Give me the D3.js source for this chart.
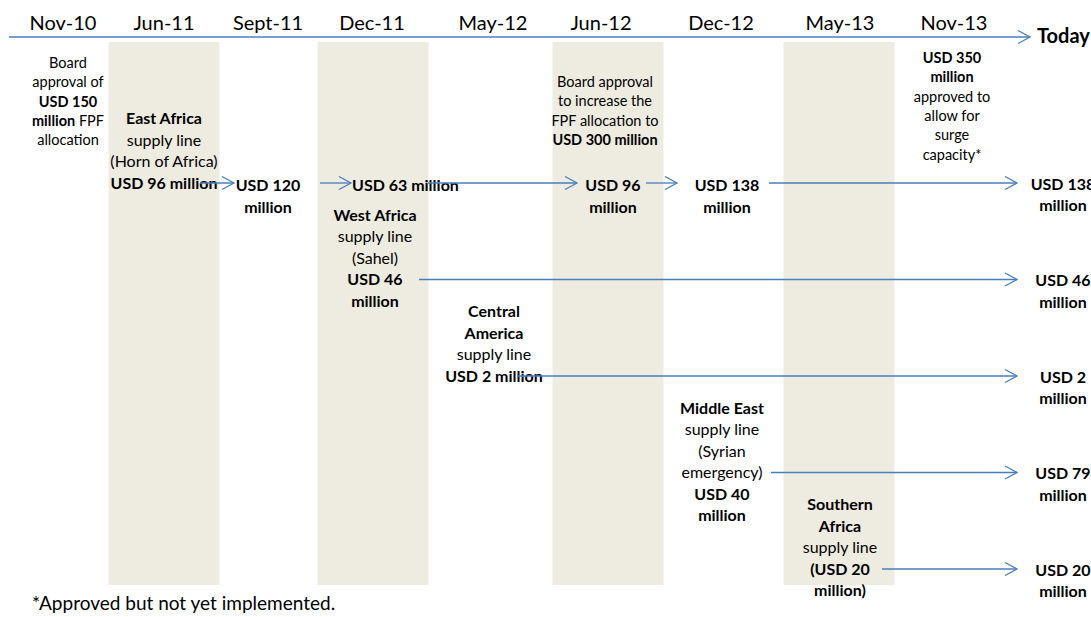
<!DOCTYPE html>
<html lang="en">
<head>
<meta charset="utf-8">
<title>FPF timeline</title>
<script src="https://d3js.org/d3.v7.min.js"></script>
<style>
  body { margin: 0; background: #fff; }
  svg text { font-family: Lato, "Open Sans", sans-serif; fill: #000; white-space: pre; }
</style>
</head>
<body>
<script>
// timeline columns
var dates = ["Nov-10", "Jun-11", "Sept-11", "Dec-11", "May-12", "Jun-12", "Dec-12", "May-13", "Nov-13", "Today"];
var shaded = ["Jun-11", "Dec-11", "Jun-12", "May-13"];

// board decisions (small text)
var noteCols = ["Nov-10", "Jun-12", "Nov-13"];
var noteText = [
  ["Board", "approval of", "**USD 150**", "**million** FPF", "allocation"],
  ["Board approval", "to increase the", "FPF allocation to", "**USD 300 million**"],
  ["**USD 350**", "**million**", "approved to", "allow for", "surge", "capacity*"]
];

// supply lines and the date they were opened
var lineCols = ["Jun-11", "Dec-11", "May-12", "Dec-12", "May-13"];
var lineText = [
  ["**East Africa**", "supply line", "(Horn of Africa)", "**USD 96 million**"],
  ["**West Africa**", "supply line", "(Sahel)", "**USD 46**", "**million**"],
  ["**Central**", "**America**", "supply line", "**USD 2 million**"],
  ["**Middle East**", "supply line", "(Syrian", "emergency)", "**USD 40**", "**million**"],
  ["**Southern**", "**Africa**", "supply line", "**(USD 20**", "**million)**"]
];
// level of each supply line today (USD million)
var todayUSD = [138, 46, 2, 79, 20];

// East Africa line changes (USD million)
var chainCols = ["Sept-11", "Dec-11", "Jun-12", "Dec-12"];
var chainUSD = [120, 63, 96, 138];

var footnote = "*Approved but not yet implemented.";

// ---- layout ----
var w = 1091, h = 617;
var blue = "#4a7ebb", beige = "#eeece1";

var x = d3.scaleOrdinal().domain(dates)
  .range([63, 164, 268, 372, 493, 601, 721, 840, 954, 1063]);
var y = d3.scaleLinear().domain([0, 4]).range([183, 569]);   // arrow rows

var axisY = 37, bandTop = 42, bandBottom = 585, bandW = 111;
var bandDx = [0, 1, 7, -1];
var noteTop = [63, 82, 58], noteDx = [5, 4, -2], noteLh = 19.3;
var lineDx = [0, 3, 1, 1, 0], lineLh = 21.4;
var chainDx = [0, -20, 12, 6];
// arrow gaps from source column / to target column
var chainGap = [[36, 34], [52, 21], [56, 24], [45, 44], [48, 46]];
var rowGap = [47, 24, 50, 42];

var svg = d3.select("body").append("svg").attr("width", w).attr("height", h);

var defs = svg.append("defs");
defs.append("marker")
  .attr("id", "head")
  .attr("markerUnits", "userSpaceOnUse")
  .attr("viewBox", "-13 -8 15 16")
  .attr("refX", 0).attr("refY", 0)
  .attr("markerWidth", 15).attr("markerHeight", 16)
  .attr("orient", "auto")
  .append("path")
  .attr("d", "M-12,-6.5L0,0L-12,6.5")
  .attr("fill", "none").attr("stroke", blue).attr("stroke-width", 1.3);

// shaded columns
svg.selectAll("rect.band")
  .data(shaded)
  .enter().append("rect")
  .attr("class", "band")
  .attr("x", function(d, i) { return x(d) + bandDx[i] - bandW / 2; })
  .attr("y", bandTop)
  .attr("width", bandW)
  .attr("height", bandBottom - bandTop)
  .attr("fill", beige);

function arrow(x1, x2, yy) {
  svg.append("line")
    .attr("x1", x1).attr("x2", x2).attr("y1", yy).attr("y2", yy)
    .attr("stroke", blue).attr("stroke-width", 1.3)
    .attr("marker-end", "url(#head)");
}

function lines(list, cx, top, lh, size, anchor) {
  list.forEach(function(ln, i) {
    var t = svg.append("text")
      .attr("x", cx).attr("y", top + i * lh).attr("dy", "0.35em")
      .attr("text-anchor", anchor || "middle")
      .style("font-size", size + "px");
    ln.split(/(\*\*[^*]+\*\*)/).filter(function(s) { return s; }).forEach(function(seg) {
      var b = seg.indexOf("**") === 0;
      t.append("tspan").text(b ? seg.slice(2, -2) : seg)
        .style("font-weight", b ? "bold" : "normal");
    });
  });
}

// time axis
arrow(x(dates[0]) - 54, x("Today") - 33, axisY);
svg.selectAll("text.date")
  .data(dates.slice(0, -1))
  .enter().append("text")
  .attr("class", "date")
  .attr("x", function(d) { return x(d); })
  .attr("y", 23).attr("dy", "0.35em")
  .attr("text-anchor", "middle")
  .style("font-size", "20px")
  .text(function(d) { return d; });
svg.append("text")
  .attr("x", x("Today") - 26).attr("y", axisY - 1).attr("dy", "0.35em")
  .style("font-size", "20px").style("font-weight", "bold")
  .text("Today");

// board decisions
noteCols.forEach(function(c, i) {
  lines(noteText[i], x(c) + noteDx[i], noteTop[i], noteLh, 14.5);
});

// supply lines, one row each
lineCols.forEach(function(c, i) {
  lines(lineText[i], x(c) + lineDx[i], y(i) - 3 * lineLh, lineLh, 16);
  lines(["**USD " + todayUSD[i] + "**", "**million**"], x("Today"), y(i) + 1, 21.5, 16);
  if (i > 0) arrow(x(c) + rowGap[i - 1], x("Today") - 46, y(i));
});

// East Africa chain on the first row
chainCols.forEach(function(c, i) {
  var txt = "USD " + chainUSD[i] + " million";
  if (c === "Dec-11") lines(["**" + txt + "**"], x(c) + chainDx[i], y(0) + 2, 21.5, 16, "start");
  else lines(["**USD " + chainUSD[i] + "**", "**million**"], x(c) + chainDx[i], y(0) + 2, 22, 16);
});
var chain = [lineCols[0]].concat(chainCols, ["Today"]);
d3.pairs(chain).forEach(function(p, i) {
  arrow(x(p[0]) + chainGap[i][0], x(p[1]) - chainGap[i][1], y(0));
});

svg.append("text")
  .attr("x", 32).attr("y", 603).attr("dy", "0.35em")
  .style("font-size", "19px")
  .text(footnote);
</script>
</body>
</html>
